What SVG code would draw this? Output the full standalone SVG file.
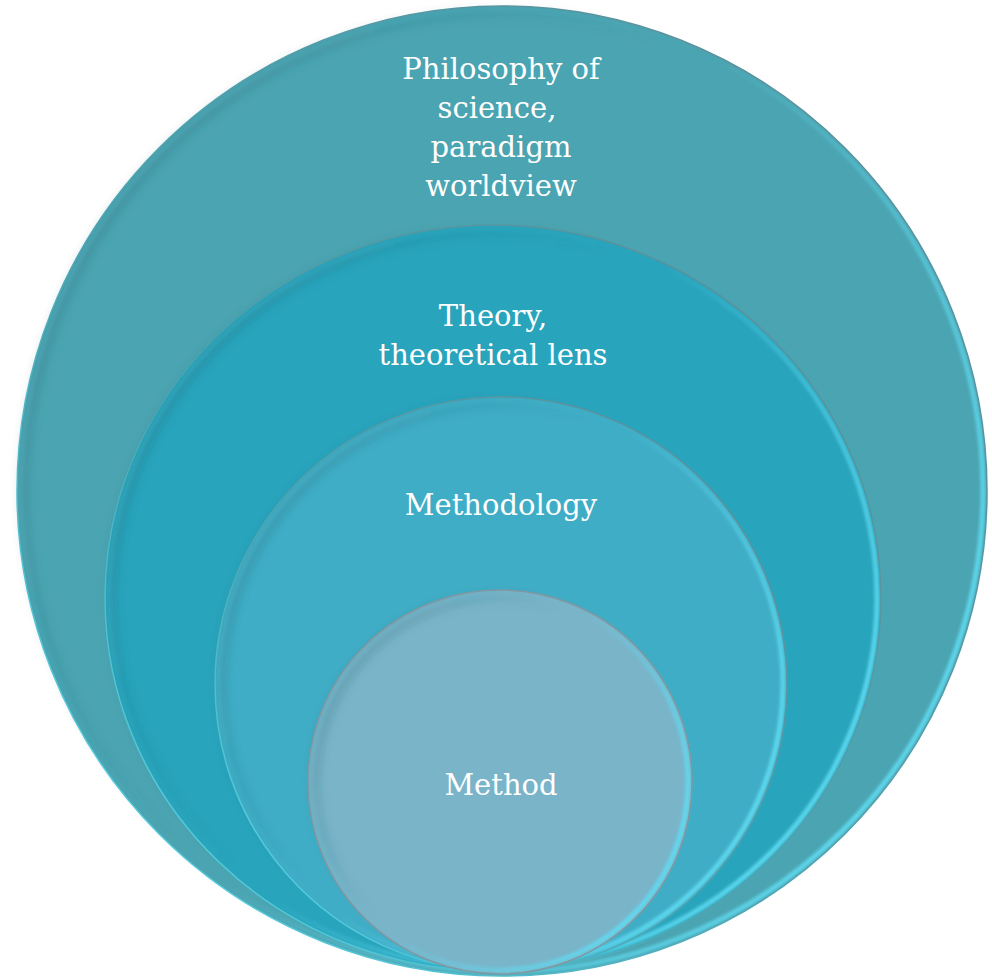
<svg xmlns="http://www.w3.org/2000/svg" width="992" height="978" viewBox="0 0 992 978">
<style>
.lbl{font-family:"DejaVu Serif","Liberation Serif",serif;font-size:29px;fill:#ffffff;text-anchor:middle}
.rim{fill:none;stroke-width:1.5}
.glow{fill:none;stroke-width:5;filter:url(#blur)}
.shade{fill:none;stroke-width:10;filter:url(#blur2)}
</style>
<defs>
<filter id="blur" x="-5%" y="-5%" width="110%" height="110%"><feGaussianBlur stdDeviation="1.5"/></filter>
<filter id="blur2" x="-5%" y="-5%" width="110%" height="110%"><feGaussianBlur stdDeviation="4"/></filter>
<linearGradient id="hl" x1="0" y1="0" x2="1" y2="0.6">
<stop offset="0" stop-color="#5fdcf2" stop-opacity="0.15"/>
<stop offset="0.55" stop-color="#5fdcf2" stop-opacity="0"/>
<stop offset="1" stop-color="#5fdcf2" stop-opacity="0.9"/>
</linearGradient>
<linearGradient id="sh" x1="0" y1="0" x2="1" y2="0.6">
<stop offset="0" stop-color="#1e5f6a" stop-opacity="0.35"/>
<stop offset="0.5" stop-color="#1e5f6a" stop-opacity="0"/>
<stop offset="1" stop-color="#1e5f6a" stop-opacity="0"/>
</linearGradient>
<linearGradient id="edge" x1="0" y1="1" x2="1" y2="0">
<stop offset="0" stop-color="#55e0f5"/>
<stop offset="0.4" stop-color="#4fa5b2"/>
<stop offset="1" stop-color="#5e8a94"/>
</linearGradient>
</defs>
<g id="node-philosophy">
<ellipse cx="502" cy="491" rx="485" ry="485" fill="#4ba4b1"/>
<ellipse cx="502" cy="491" rx="478" ry="478" class="shade" stroke="url(#sh)"/>
<ellipse cx="502" cy="491" rx="481" ry="481" class="glow" stroke="url(#hl)"/>
<ellipse cx="502" cy="491" rx="485" ry="485" class="rim" stroke="url(#edge)"/>
<text class="lbl" x="501" y="79">Philosophy of</text>
<text class="lbl" x="497" y="118">science,</text>
<text class="lbl" x="501" y="157">paradigm</text>
<text class="lbl" x="501" y="196">worldview</text>
</g>
<g id="node-theory">
<ellipse cx="493" cy="598" rx="388" ry="373" fill="#28a4bc"/>
<ellipse cx="493" cy="598" rx="381" ry="366" class="shade" stroke="url(#sh)"/>
<ellipse cx="493" cy="598" rx="384" ry="369" class="glow" stroke="url(#hl)"/>
<ellipse cx="493" cy="598" rx="388" ry="373" class="rim" stroke="url(#edge)"/>
<text class="lbl" x="493" y="326">Theory,</text>
<text class="lbl" x="493" y="365">theoretical lens</text>
</g>
<g id="node-methodology">
<ellipse cx="501" cy="684" rx="286" ry="287" fill="#40adc6"/>
<ellipse cx="501" cy="684" rx="279" ry="280" class="shade" stroke="url(#sh)"/>
<ellipse cx="501" cy="684" rx="282" ry="283" class="glow" stroke="url(#hl)"/>
<ellipse cx="501" cy="684" rx="286" ry="287" class="rim" stroke="url(#edge)"/>
<text class="lbl" x="501" y="515">Methodology</text>
</g>
<g id="node-method">
<ellipse cx="500" cy="782" rx="192" ry="192" fill="#7ab4c9"/>
<ellipse cx="500" cy="782" rx="185" ry="185" class="shade" stroke="url(#sh)"/>
<ellipse cx="500" cy="782" rx="188" ry="188" class="glow" stroke="url(#hl)"/>
<ellipse cx="500" cy="782" rx="192" ry="192" class="rim" stroke="#7f98a2"/>
<text class="lbl" x="501" y="795">Method</text>
</g>
<g id="connectors"/>
</svg>
